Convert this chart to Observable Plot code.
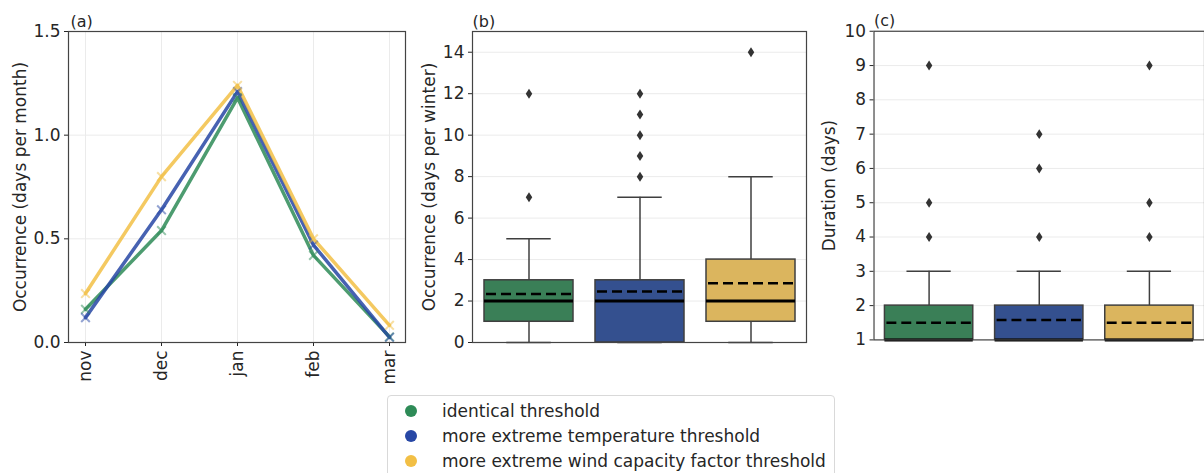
<!DOCTYPE html>
<html><head><meta charset="utf-8">
<script src="https://cdn.jsdelivr.net/npm/d3@7"></script>
<script src="https://cdn.jsdelivr.net/npm/@observablehq/plot@0.6"></script>
<style>
body{margin:0;background:#fff;font-family:"DejaVu Sans",sans-serif;}
#wrap{position:relative;width:1204px;height:473px;overflow:hidden;background:#fff;}
#wrap > .panel{position:absolute;top:0;}
.legend{position:absolute;left:387px;top:395px;width:448px;height:90px;border:1px solid #d9d9d9;border-radius:4px;box-sizing:border-box;background:#fff;}
.row{position:absolute;left:0;height:25px;display:flex;align-items:center;font-size:17px;color:#262626;white-space:nowrap;}
.dot{display:inline-block;width:12px;height:12px;border-radius:50%;margin-left:17px;margin-right:25px;}
</style>
</head><body>
<div id="wrap">
  <div class="panel" id="pa" style="left:0px"></div>
  <div class="panel" id="pb" style="left:410px"></div>
  <div class="panel" id="pc" style="left:810px"></div>
  <div class="legend" id="legend"></div>
</div>
<script>
// ---- data ----
const months = ["nov", "dec", "jan", "feb", "mar"];
const seriesNames = ["identical threshold", "more extreme temperature threshold", "more extreme wind capacity factor threshold"];
// (a) occurrence, days per month
const occIdentical = [0.16, 0.54, 1.18, 0.42, 0.027];
const occTemperature = [0.12, 0.64, 1.21, 0.47, 0.025];
const occWind = [0.236, 0.80, 1.24, 0.50, 0.083];
const monthTicks = [0, 0.5, 1.0, 1.5];
// (b) occurrence, days per winter (box summaries)
const winterLow = [0, 0, 0];
const winterQ1 = [1, 0, 1];
const winterMedian = [2, 2, 2];
const winterQ3 = [3, 3, 4];
const winterHigh = [5, 7, 8];
const winterMean = [2.34, 2.46, 2.86];
const winterOutliers = [[7, 12], [8, 9, 10, 11, 12], [14]];
const winterTicks = [0, 2, 4, 6, 8, 10, 12, 14];
// (c) duration, days (box summaries)
const durLow = [1, 1, 1];
const durQ1 = [1, 1, 1];
const durMedian = [1, 1, 1];
const durQ3 = [2, 2, 2];
const durHigh = [3, 3, 3];
const durMean = [1.50, 1.58, 1.50];
const durOutliers = [[4, 5, 9], [4, 6, 7], [4, 5, 9]];
const durTicks = [1, 2, 3, 4, 5, 6, 7, 8, 9, 10];

// ---- styles ----
const palette = ["#2e8b57", "#2747a5", "#f2bf45"];
const boxPalette = ["#3a7f57", "#34508f", "#dbb55e"];
const ink = "#262626";
const gridColor = "#ebebeb";
const edge = "#3f3f3f";
const baseStyle = {fontFamily: "DejaVu Sans", fontSize: "17px", color: ink, background: "transparent", overflow: "visible"};

const thinDiamond = {
  draw(context, size) {
    const r = Math.sqrt(size / Math.PI);
    const w = r * 0.65;
    context.moveTo(0, -r);
    context.lineTo(w, 0);
    context.lineTo(0, r);
    context.lineTo(-w, 0);
    context.closePath();
  }
};

function panelLabel(t, dx) {
  return Plot.text([t], {text: d => d, frameAnchor: "top-left", textAnchor: "start", lineAnchor: "bottom", dy: -5, dx: dx, fontSize: 16, fill: ink});
}

// ---- panel (a) ----
const occ = [occIdentical, occTemperature, occWind];
const lineData = seriesNames.flatMap((s, j) => months.map((m, i) => ({series: s, month: m, value: occ[j][i]})));

const pa = Plot.plot({
  width: 410, height: 400,
  marginLeft: 68, marginRight: 5, marginTop: 31, marginBottom: 58,
  style: baseStyle,
  x: {type: "point", domain: months, padding: 0.2},
  y: {domain: [0, 1.5]},
  color: {domain: seriesNames, range: palette},
  marks: [
    Plot.gridX(months, {stroke: gridColor, strokeOpacity: 1}),
    Plot.gridY(monthTicks, {stroke: gridColor, strokeOpacity: 1}),
    Plot.line(lineData, {x: "month", y: "value", z: "series", stroke: "series", strokeWidth: 3.5, strokeOpacity: 0.85}),
    Plot.dot(lineData, {x: "month", y: "value", stroke: "series", symbol: "times", r: 4, strokeWidth: 2, strokeOpacity: 0.5}),
    Plot.axisX({tickRotate: -90, tickSize: 4, tickPadding: 4, label: null}),
    Plot.axisY({ticks: monthTicks, tickFormat: ".1f", tickSize: 4, tickPadding: 4, label: "Occurrence (days per month)", labelAnchor: "center", labelArrow: "none", labelOffset: 55}),
    Plot.frame({stroke: "#444", strokeWidth: 1.2}),
    panelLabel("(a)", 2)
  ]
});
document.getElementById("pa").appendChild(pa);

// ---- box panels ----
function boxPanel(opts) {
  const {width, marginLeft, marginRight, domain, ticks, label, labelOffset, name,
         lo, q1, med, q3, hi, mean, outliers} = opts;
  const boxes = seriesNames.map((s, i) => ({series: s, lo: lo[i], q1: q1[i], med: med[i], q3: q3[i], hi: hi[i], mean: mean[i]}));
  const outs = seriesNames.flatMap((s, i) => outliers[i].map(v => ({series: s, value: v})));
  const plotW = width - marginLeft - marginRight;
  const capInset = plotW / 3 * 0.8 * 0.25;
  return Plot.plot({
    width, height: 400,
    marginLeft, marginRight, marginTop: 31, marginBottom: 58,
    style: baseStyle,
    x: {type: "band", domain: seriesNames, paddingInner: 0.2, paddingOuter: 0.1, axis: null},
    y: {domain},
    color: {domain: seriesNames, range: boxPalette},
    marks: [
      Plot.gridY(ticks, {stroke: gridColor, strokeOpacity: 1}),
      Plot.ruleX(boxes, {x: "series", y1: "q3", y2: "hi", stroke: edge, strokeWidth: 1.5}),
      Plot.ruleX(boxes, {x: "series", y1: "lo", y2: "q1", stroke: edge, strokeWidth: 1.5}),
      Plot.tickY(boxes, {x: "series", y: "hi", stroke: edge, strokeWidth: 1.5, insetLeft: capInset, insetRight: capInset}),
      Plot.tickY(boxes, {x: "series", y: "lo", stroke: edge, strokeWidth: 1.5, insetLeft: capInset, insetRight: capInset}),
      Plot.barY(boxes, {x: "series", y1: "q1", y2: "q3", fill: "series", stroke: edge, strokeWidth: 1.5}),
      Plot.tickY(boxes, {x: "series", y: "med", stroke: "black", strokeWidth: 3}),
      Plot.tickY(boxes, {x: "series", y: "mean", stroke: "black", strokeWidth: 2.6, strokeDasharray: "10,5", insetLeft: 2, insetRight: 2}),
      Plot.dot(outs, {x: "series", y: "value", symbol: thinDiamond, r: 5, fill: "#333", stroke: null}),
      Plot.axisY({ticks, tickSize: 4, tickPadding: 4, label, labelAnchor: "center", labelArrow: "none", labelOffset}),
      Plot.frame({stroke: "#444", strokeWidth: 1.2}),
      panelLabel(name, 0)
    ]
  });
}

document.getElementById("pb").appendChild(boxPanel({
  width: 400, marginLeft: 62, marginRight: 4, domain: [0, 15], ticks: winterTicks,
  label: "Occurrence (days per winter)", labelOffset: 50, name: "(b)",
  lo: winterLow, q1: winterQ1, med: winterMedian, q3: winterQ3, hi: winterHigh, mean: winterMean, outliers: winterOutliers
}));

document.getElementById("pc").appendChild(boxPanel({
  width: 397, marginLeft: 64, marginRight: 0, domain: [1, 10], ticks: durTicks,
  label: "Duration (days)", labelOffset: 51, name: "(c)",
  lo: durLow, q1: durQ1, med: durMedian, q3: durQ3, hi: durHigh, mean: durMean, outliers: durOutliers
}));

// ---- legend ----
const legend = document.getElementById("legend");
seriesNames.forEach((s, i) => {
  const row = document.createElement("div");
  row.className = "row";
  row.style.top = (2 + 25 * i) + "px";
  const dot = document.createElement("span");
  dot.className = "dot";
  dot.style.background = palette[i];
  const txt = document.createElement("span");
  txt.textContent = s;
  row.appendChild(dot);
  row.appendChild(txt);
  legend.appendChild(row);
});
</script>
</body></html>
